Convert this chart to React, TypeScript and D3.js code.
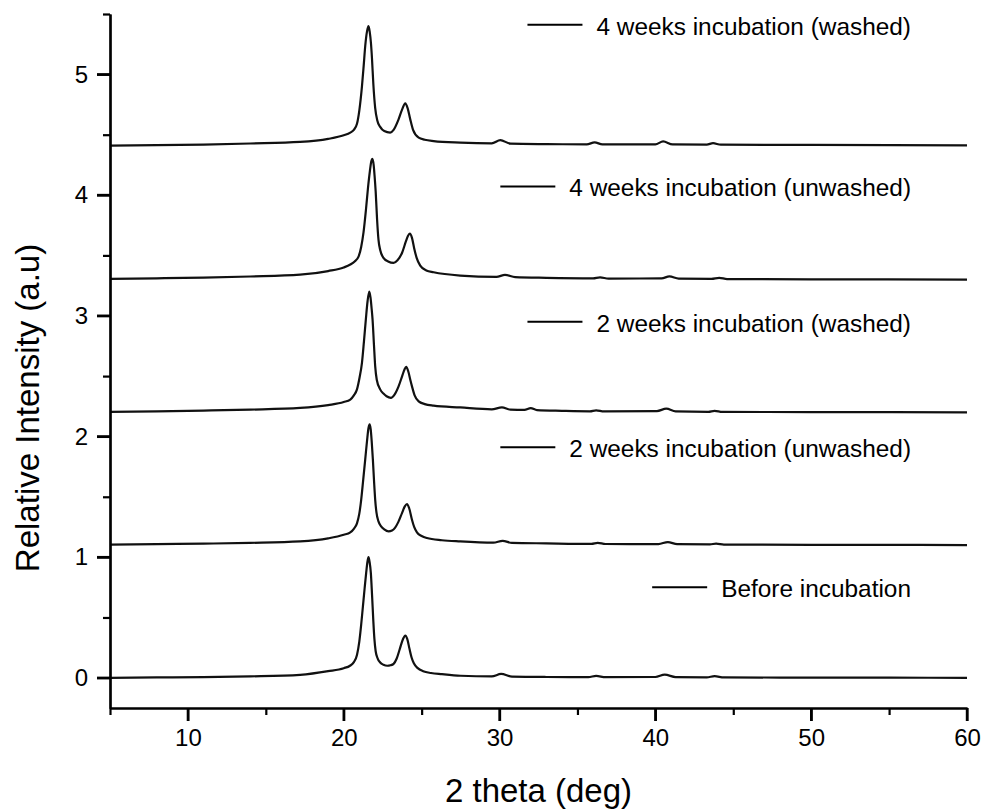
import React, { useEffect, useRef } from 'react';
import * as d3 from 'd3';

// XRD patterns: [2 theta, relative intensity] before the vertical offset
const beforeIncubation: [number, number][] = [
  [5, 0], [8, 0.003], [11, 0.006], [14, 0.012], [17.2, 0.025], [19, 0.055], [20.0, 0.08], [20.4, 0.1],
  [20.65, 0.13], [20.85, 0.19], [21.0, 0.3], [21.12, 0.44], [21.23, 0.59], [21.34, 0.74], [21.44, 0.87],
  [21.52, 0.96], [21.59, 1.0], [21.66, 0.96], [21.74, 0.87], [21.82, 0.68], [21.9, 0.47], [21.97, 0.32],
  [22.05, 0.22], [22.18, 0.16], [22.34, 0.127], [22.55, 0.108], [22.8, 0.1], [23.0, 0.104], [23.2, 0.116],
  [23.4, 0.16], [23.6, 0.24], [23.8, 0.32], [23.95, 0.35], [24.08, 0.32], [24.22, 0.24], [24.35, 0.17],
  [24.5, 0.12], [24.75, 0.08], [25.1, 0.055], [25.6, 0.04], [26.3, 0.03], [27.5, 0.017], [29.5, 0.012],
  [30.1, 0.032], [30.8, 0.01], [33, 0.007], [35.7, 0.006], [36.2, 0.016], [36.8, 0.005], [40, 0.007],
  [40.6, 0.026], [41.3, 0.006], [43.3, 0.004], [43.8, 0.014], [44.4, 0.003], [50, 0.002], [55, 0.001], [60, 0],
];

const twoWeeksUnwashed: [number, number][] = [
  [5, 0.003], [8, 0.008], [11, 0.012], [14, 0.018], [17.2, 0.03], [19, 0.055], [20.0, 0.085], [20.42, 0.105],
  [20.65, 0.135], [20.85, 0.18], [21.0, 0.26], [21.12, 0.375], [21.25, 0.54], [21.38, 0.71], [21.5, 0.87],
  [21.59, 0.97], [21.66, 1.0], [21.73, 0.96], [21.8, 0.85], [21.87, 0.71], [21.95, 0.52], [22.02, 0.375],
  [22.1, 0.27], [22.23, 0.196], [22.4, 0.155], [22.6, 0.13], [22.88, 0.113], [23.1, 0.12], [23.3, 0.145],
  [23.5, 0.19], [23.74, 0.265], [23.92, 0.32], [24.06, 0.34], [24.2, 0.305], [24.38, 0.21], [24.52, 0.15],
  [24.7, 0.105], [25.0, 0.075], [25.34, 0.058], [26.3, 0.04], [27.48, 0.03], [29.6, 0.02], [30.2, 0.035],
  [30.8, 0.018], [33, 0.014], [35.9, 0.01], [36.3, 0.018], [36.8, 0.009], [40.2, 0.008], [40.8, 0.025],
  [41.4, 0.007], [43.5, 0.005], [43.9, 0.012], [44.4, 0.004], [50, 0.002], [55, 0.002], [60, 0],
];

const twoWeeksWashed: [number, number][] = [
  [5, 0.004], [8, 0.008], [11, 0.014], [14, 0.022], [17.2, 0.036], [19, 0.06], [20.0, 0.085], [20.42, 0.105],
  [20.65, 0.14], [20.85, 0.19], [21.02, 0.29], [21.17, 0.41], [21.3, 0.59], [21.42, 0.77], [21.53, 0.92],
  [21.64, 1.0], [21.72, 0.95], [21.79, 0.86], [21.85, 0.77], [21.94, 0.56], [22.02, 0.38], [22.12, 0.27],
  [22.34, 0.19], [22.55, 0.155], [22.75, 0.133], [23.03, 0.12], [23.25, 0.145], [23.52, 0.215], [23.75, 0.3],
  [23.9, 0.355], [24.01, 0.376], [24.14, 0.34], [24.28, 0.265], [24.38, 0.215], [24.55, 0.14], [24.81, 0.09],
  [25.2, 0.068], [25.77, 0.055], [27.48, 0.04], [29.5, 0.025], [30.15, 0.04], [30.7, 0.022], [31.6, 0.02],
  [32.0, 0.035], [32.4, 0.018], [34, 0.012], [35.8, 0.008], [36.2, 0.016], [36.7, 0.007], [40.1, 0.01],
  [40.7, 0.03], [41.3, 0.008], [43.4, 0.004], [43.8, 0.012], [44.3, 0.003], [50, 0.002], [60, 0],
];

const fourWeeksUnwashed: [number, number][] = [
  [5, 0.005], [8, 0.01], [11, 0.016], [14, 0.025], [17.2, 0.04], [19, 0.07], [20.0, 0.1], [20.42, 0.124],
  [20.7, 0.15], [20.95, 0.19], [21.12, 0.27], [21.27, 0.39], [21.42, 0.57], [21.55, 0.75], [21.68, 0.9],
  [21.77, 0.98], [21.84, 1.0], [21.92, 0.95], [21.98, 0.86], [22.05, 0.73], [22.14, 0.5], [22.23, 0.33],
  [22.35, 0.24], [22.55, 0.18], [22.85, 0.15], [23.2, 0.138], [23.45, 0.16], [23.74, 0.22], [24.0, 0.32],
  [24.12, 0.36], [24.24, 0.38], [24.38, 0.345], [24.52, 0.26], [24.68, 0.18], [24.91, 0.115], [25.3, 0.075],
  [25.77, 0.06], [27.48, 0.033], [29.8, 0.022], [30.35, 0.038], [31, 0.02], [33, 0.014], [36, 0.01],
  [36.45, 0.018], [37, 0.008], [40.4, 0.01], [40.9, 0.026], [41.5, 0.008], [43.6, 0.006], [44.1, 0.014],
  [44.6, 0.004], [50, 0.002], [60, 0],
];

const fourWeeksWashed: [number, number][] = [
  [5, 0.01], [8, 0.013], [11, 0.018], [14, 0.027], [17.2, 0.04], [19, 0.065], [20.0, 0.095], [20.42, 0.117],
  [20.65, 0.14], [20.85, 0.19], [21.0, 0.3], [21.17, 0.5], [21.28, 0.67], [21.38, 0.835], [21.5, 0.96],
  [21.59, 1.0], [21.67, 0.95], [21.74, 0.87], [21.81, 0.74], [21.9, 0.52], [22.02, 0.32], [22.15, 0.22],
  [22.34, 0.165], [22.6, 0.13], [22.98, 0.117], [23.2, 0.14], [23.52, 0.227], [23.75, 0.31], [23.95, 0.36],
  [24.1, 0.32], [24.27, 0.227], [24.45, 0.14], [24.81, 0.075], [25.2, 0.058], [25.77, 0.047], [27.48, 0.034],
  [29.5, 0.028], [30.05, 0.055], [30.7, 0.026], [33, 0.022], [35.6, 0.02], [36.1, 0.036], [36.6, 0.02],
  [40, 0.02], [40.5, 0.044], [41.1, 0.02], [43.3, 0.018], [43.7, 0.03], [44.2, 0.017], [50, 0.015], [60, 0.012],
];

const seriesLabels = [
  'Before incubation',
  '2 weeks incubation (unwashed)',
  '2 weeks incubation (washed)',
  '4 weeks incubation (unwashed)',
  '4 weeks incubation (washed)',
];
const seriesData = [beforeIncubation, twoWeeksUnwashed, twoWeeksWashed, fourWeeksUnwashed, fourWeeksWashed];
const seriesOffsets = [0, 1.1, 2.2, 3.3, 4.4];

const xMajorTicks = [10, 20, 30, 40, 50, 60];
const xMinorTicks = [5, 15, 25, 35, 45, 55];
const yMajorTicks = [0, 1, 2, 3, 4, 5];
const yMinorTicks = [0.5, 1.5, 2.5, 3.5, 4.5, 5.5];

// layout
const W = 986, H = 812;
const FONT = '"Liberation Sans", Arial, sans-serif';
const legendY = [0.75, 1.91, 2.95, 4.07, 5.41]; // legend rows, in y-axis units
const legendRight = 911;

const App = () => {
  const ref = useRef<SVGSVGElement>(null);

  useEffect(() => {
    document.body.style.margin = '0';
    const svg = d3.select(ref.current);
    svg.selectAll('*').remove();

    const x = d3.scaleLinear().domain([5, 60]).range([110, 967]);
    const y = d3.scaleLinear().domain([-0.25, 5.5]).range([708, 14]);

    const line = d3.line<[number, number]>()
      .x(d => x(d[0]))
      .curve(d3.curveMonotoneX);

    seriesData.forEach((data, i) => {
      svg.append('path')
        .attr('d', line.y(d => y(d[1] + seriesOffsets[i]))(data))
        .attr('fill', 'none')
        .attr('stroke', '#111')
        .attr('stroke-width', 2.2)
        .attr('stroke-linejoin', 'round');
    });

    const styleAxis = (g: any, showLabels: boolean) => {
      g.select('.domain').attr('stroke', '#000').attr('stroke-width', 2.2);
      g.selectAll('.tick line').attr('stroke', '#000').attr('stroke-width', 2.2);
      g.selectAll('.tick text')
        .attr('font-family', FONT)
        .attr('font-size', 24)
        .attr('fill', '#000')
        .attr('display', showLabels ? null : 'none');
    };

    // left axis: minor ticks, then major ticks with labels
    svg.append('g')
      .attr('transform', `translate(${x(5)},0)`)
      .call(d3.axisLeft(y).tickValues(yMinorTicks).tickSize(7).tickSizeOuter(0))
      .call((g: any) => styleAxis(g, false));
    svg.append('g')
      .attr('transform', `translate(${x(5)},0)`)
      .call(d3.axisLeft(y).tickValues(yMajorTicks).tickFormat(d3.format('d')).tickSize(13).tickPadding(9).tickSizeOuter(0))
      .call((g: any) => styleAxis(g, true));

    // bottom axis
    svg.append('g')
      .attr('transform', `translate(0,${y(-0.25)})`)
      .call(d3.axisBottom(x).tickValues(xMinorTicks).tickSize(7).tickSizeOuter(0))
      .call((g: any) => styleAxis(g, false));
    svg.append('g')
      .attr('transform', `translate(0,${y(-0.25)})`)
      .call(d3.axisBottom(x).tickValues(xMajorTicks).tickFormat(d3.format('d')).tickSize(13).tickPadding(8).tickSizeOuter(0))
      .call((g: any) => styleAxis(g, true));

    // major tick marks once more on top, so they stay clearly drawn
    const marks = svg.append('g').attr('stroke', '#000').attr('stroke-width', 2.4);
    yMajorTicks.forEach(t => {
      marks.append('line').attr('x1', x(5) - 13).attr('x2', x(5)).attr('y1', y(t)).attr('y2', y(t));
    });
    xMajorTicks.forEach(t => {
      marks.append('line').attr('x1', x(t)).attr('x2', x(t)).attr('y1', y(-0.25)).attr('y2', y(-0.25) + 13);
    });

    svg.append('text')
      .attr('x', (x(5) + x(60)) / 2)
      .attr('y', 802)
      .attr('text-anchor', 'middle')
      .attr('font-family', FONT)
      .attr('font-size', 33)
      .text('2 theta (deg)');

    svg.append('text')
      .attr('transform', 'translate(39,408) rotate(-90)')
      .attr('text-anchor', 'middle')
      .attr('font-family', FONT)
      .attr('font-size', 33)
      .text('Relative Intensity (a.u)');

    // legend
    seriesLabels.forEach((label, i) => {
      const ly = y(legendY[i]);
      const txt = svg.append('text')
        .attr('x', legendRight)
        .attr('y', ly + 1)
        .attr('dy', '0.36em')
        .attr('text-anchor', 'end')
        .attr('font-family', FONT)
        .attr('font-size', 24.4)
        .text(label);
      const box = (txt.node() as SVGTextElement).getBBox();
      svg.append('line')
        .attr('x1', box.x - 69)
        .attr('x2', box.x - 14)
        .attr('y1', ly)
        .attr('y2', ly)
        .attr('stroke', '#000')
        .attr('stroke-width', 2);
    });
  }, []);

  return <svg ref={ref} width={W} height={H} style={{ display: 'block', background: '#fff' }} />;
};

export default App;
